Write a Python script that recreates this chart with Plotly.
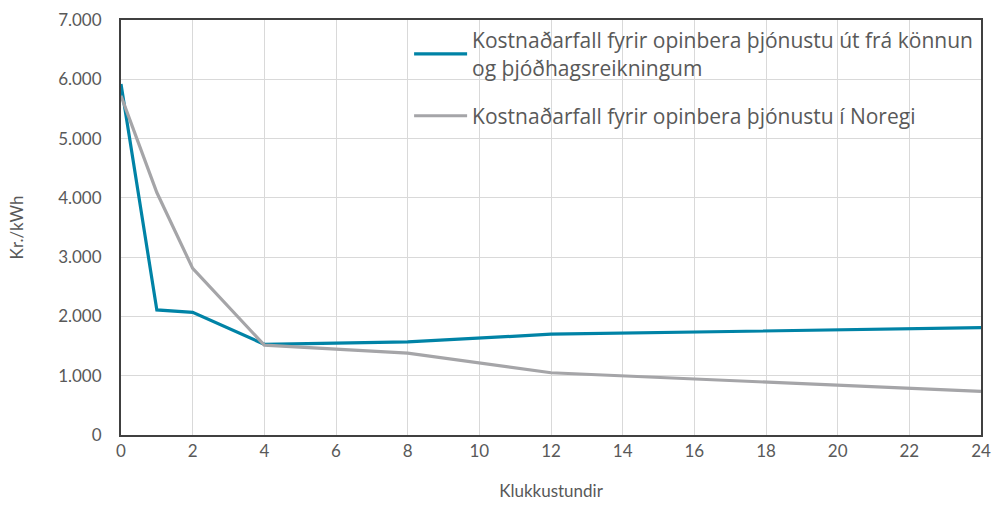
import plotly.graph_objects as go

hours = [0, 1, 2, 4, 8, 12, 24]
cost_survey = [5920, 2110, 2070, 1530, 1570, 1700, 1810]
cost_norway = [5720, 4090, 2810, 1515, 1380, 1050, 735]

name_survey = "Kostnaðarfall fyrir opinbera þjónustu út frá könnun<br>og þjóðhagsreikningum"
name_norway = "Kostnaðarfall fyrir opinbera þjónustu í Noregi"

x_ticks = list(range(0, 25, 2))
y_ticks = list(range(0, 7001, 1000))

FONT = "Lato, Open Sans, sans-serif"
TXT = "#595959"

fig = go.Figure()
fig.add_trace(go.Scatter(x=hours, y=cost_survey, mode="lines", name=name_survey,
                         legendgroup="a",
                         line=dict(color="#0083A6", width=3.2)))
fig.add_trace(go.Scatter(x=hours, y=cost_norway, mode="lines", name=name_norway,
                         legendgroup="b",
                         line=dict(color="#A5A5A8", width=3.2)))

fig.update_layout(
    width=993, height=505,
    margin=dict(l=121, r=12, t=20, b=70),
    plot_bgcolor="white", paper_bgcolor="white",
    font=dict(family=FONT, color=TXT, size=17),
    separators=",.",
    showlegend=True,
    legend=dict(x=0.335, y=1.0, xanchor="left", yanchor="top",
                bgcolor="rgba(0,0,0,0)",
                font=dict(size=21, color=TXT, family="Open Sans, sans-serif"),
                tracegroupgap=18, itemwidth=53),
)
fig.update_xaxes(range=[0, 24], tickvals=x_ticks, showgrid=True, gridcolor="#D9D9D9",
                 gridwidth=1.3, showline=True, linecolor="#404040", linewidth=2,
                 mirror=True, ticks="",
                 tickfont=dict(size=17, color=TXT), automargin=False,
                 title=dict(text="Klukkustundir", font=dict(size=17, color=TXT), standoff=25),
                 zeroline=False)
fig.update_yaxes(range=[0, 7000], tickvals=y_ticks, tickformat=",d", showgrid=True,
                 gridcolor="#D9D9D9", gridwidth=1.3, showline=True, linecolor="#404040",
                 linewidth=2, mirror=True, ticks="outside", ticklen=14,
                 tickcolor="rgba(0,0,0,0)", tickfont=dict(size=17, color=TXT),
                 automargin=False,
                 title=dict(text="Kr./kWh", font=dict(size=17, color=TXT), standoff=30),
                 zeroline=False)

fig.write_html("out.html", config={"displayModeBar": False},
               post_script="document.body.style.margin='0';")
